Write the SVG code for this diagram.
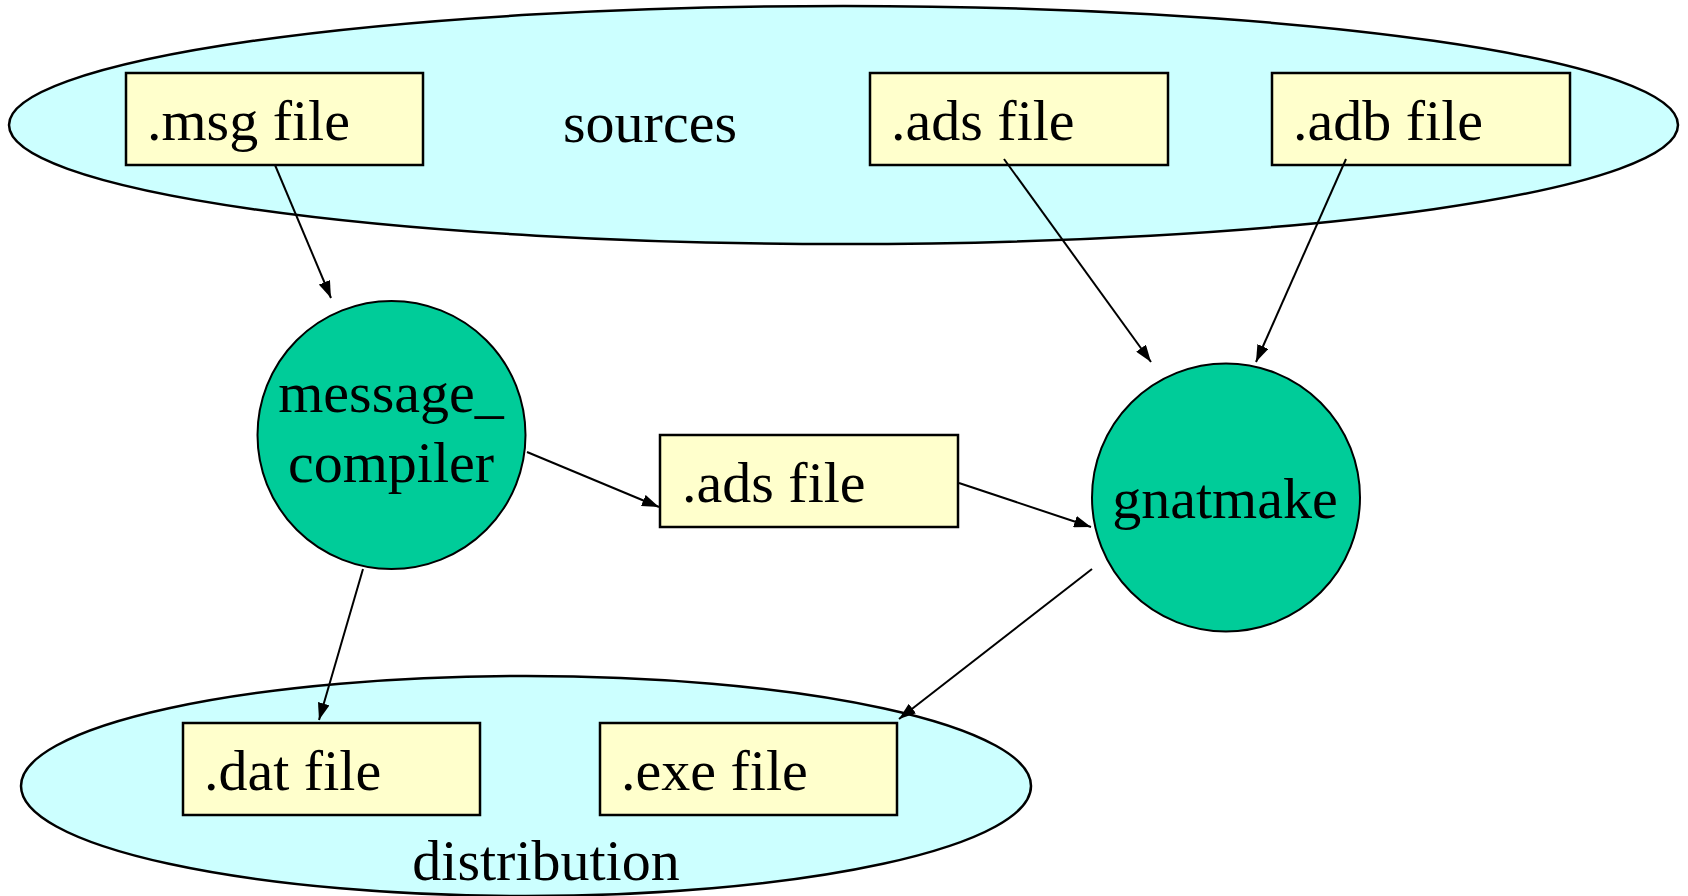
<svg xmlns="http://www.w3.org/2000/svg" width="1688" height="896" viewBox="0 0 1688 896">
<style>
.grp{fill:#CCFFFF;stroke:#000;stroke-width:2.5}
.box{fill:#FFFFCC;stroke:#000;stroke-width:2.5}
.proc{fill:#00CC99;stroke:#000;stroke-width:2}
.t{font-family:"Liberation Serif","Times New Roman",serif;font-size:58px;fill:#000}
.c{text-anchor:middle}
.edge{stroke:#000;stroke-width:2;fill:none;marker-end:url(#ah)}
</style>
<defs>
<marker id="ah" markerUnits="userSpaceOnUse" markerWidth="18" markerHeight="12" refX="17" refY="6" orient="auto">
<path d="M0,0 L17,6 L0,12 z" fill="#000"/>
</marker>
</defs>
<rect width="1688" height="896" fill="#fff"/>
<g id="sources">
<ellipse class="grp" cx="843.5" cy="125" rx="834.5" ry="119"/>
<text class="t c" x="650" y="142">sources</text>
</g>
<g id="distribution">
<ellipse class="grp" cx="526" cy="786" rx="505" ry="110"/>
<text class="t c" x="546" y="880">distribution</text>
</g>
<g id="msg_file">
<rect class="box" x="126" y="73" width="297" height="92"/>
<text class="t" x="147" y="140">.msg file</text>
</g>
<g id="ads_file_src">
<rect class="box" x="870" y="73" width="298" height="92"/>
<text class="t" x="891" y="140">.ads file</text>
</g>
<g id="adb_file">
<rect class="box" x="1272" y="73" width="298" height="92"/>
<text class="t" x="1293" y="140">.adb file</text>
</g>
<g id="message_compiler">
<circle class="proc" cx="391.5" cy="435" r="134"/>
<text class="t c" x="391" y="412">message_</text>
<text class="t c" x="391" y="482">compiler</text>
</g>
<g id="ads_file_gen">
<rect class="box" x="660" y="435" width="298" height="92"/>
<text class="t" x="682" y="502">.ads file</text>
</g>
<g id="gnatmake">
<circle class="proc" cx="1226" cy="497.5" r="134"/>
<text class="t c" x="1225" y="518">gnatmake</text>
</g>
<g id="dat_file">
<rect class="box" x="183" y="723" width="297" height="92"/>
<text class="t" x="204" y="790">.dat file</text>
</g>
<g id="exe_file">
<rect class="box" x="600" y="723" width="297" height="92"/>
<text class="t" x="621" y="790">.exe file</text>
</g>
<g id="connectors">
<line class="edge" x1="275" y1="165" x2="331" y2="298"/>
<line class="edge" x1="1004" y1="159" x2="1151" y2="362"/>
<line class="edge" x1="1346" y1="159" x2="1256" y2="362"/>
<line class="edge" x1="527" y1="452" x2="659" y2="507"/>
<line class="edge" x1="959" y1="483" x2="1091" y2="527"/>
<line class="edge" x1="363" y1="569" x2="319" y2="720"/>
<line class="edge" x1="1092" y1="569" x2="899" y2="719"/>
</g>
</svg>
